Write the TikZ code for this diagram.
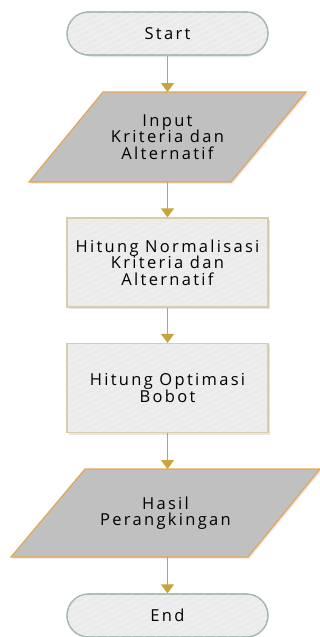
\documentclass[tikz,border=0pt]{standalone}
\usepackage{fontspec}
\setmainfont{Open Sans}[LetterSpace=14]
\usetikzlibrary{shapes.misc,calc,arrows.meta}

\definecolor{flowgold}{HTML}{C9A43C}
\definecolor{termfill}{HTML}{EBEBEB}
\definecolor{termline}{HTML}{A3B8AE}
\definecolor{boxfill}{HTML}{EBEBEB}
\definecolor{boxline}{HTML}{D9CDA8}
\definecolor{iofill}{HTML}{C0C0C0}
\definecolor{ioline}{HTML}{E6A552}
\definecolor{stripe}{HTML}{F1F1F1}

\tikzset{
  x=1pt, y=-1pt,
  txt/.style={font=\fontsize{16.5}{16.5}\selectfont, align=center, text=black, inner sep=0pt},
  terminal/.style={rounded rectangle, draw=termline, line width=1.2pt, fill=termfill,
    minimum width=201pt, minimum height=43pt, txt},
  procbox/.style={rectangle, draw=boxline, line width=1.2pt, fill=boxfill,
    minimum width=201pt, minimum height=89pt, txt},
  iobox/.style={rectangle, minimum height=90pt, txt},
  flow/.style={draw=flowgold, line width=1.2pt, -{Triangle[length=9pt,width=13pt]}},
  stripes/.style={draw=stripe, line width=0.9pt}
}

% diagonal light stripes across the current clip region
\newcommand{\stripefill}[4]{%
  \foreach \s in {-300,-288,...,300}{
    \draw[stripes] ({#1+\s},{#4}) -- ({#1+\s+2*(#4-#2)},{#2});
  }%
}

\begin{document}
\begin{tikzpicture}
\useasboundingbox (0,0) rectangle (320,637);

% ---- Start ----
\path (169,35.5) node[rounded rectangle, minimum width=201pt, minimum height=43pt, fill=black!10] {};
\node[terminal] (start) at (167.5,33.5) {};
\begin{scope}
  \clip[rounded corners=21pt] (66,12) rectangle (269,55);
  \stripefill{167}{12}{269}{55}
\end{scope}
\node[terminal, fill=none] at (start) {Start};

% ---- Input ----
\node[iobox] (input) at (167.5,137) {};
\fill[black!10] (30.5,183.5) -- (104.5,93.5) -- (307.5,93.5) -- (232.5,183.5) -- cycle;
\filldraw[fill=iofill, draw=ioline, line width=1.2pt, line join=miter]
  (29,182) -- (103,92) -- (306,92) -- (231,182) -- cycle;
\node[txt] at (input) {Input\\Kriteria dan\\Alternatif};

% ---- Normalisasi ----
\fill[black!10] (69,220) rectangle (270,309);
\node[procbox] (norm) at (167.5,262.5) {};
\begin{scope}
  \clip (67,218) rectangle (268,307);
  \stripefill{167}{218}{268}{307}
\end{scope}
\node[procbox, fill=none] at (norm) {Hitung Normalisasi\\Kriteria dan\\Alternatif};

% ---- Optimasi ----
\fill[black!10] (69,345) rectangle (270,435);
\node[procbox] (opt) at (167.5,388) {};
\begin{scope}
  \clip (67,343) rectangle (268,433);
  \stripefill{167}{343}{268}{433}
\end{scope}
\node[procbox, fill=none] at (opt) {Hitung Optimasi\\Bobot};

% ---- Hasil ----
\node[iobox, minimum height=88pt] (hasil) at (165.5,513) {};
\fill[black!10] (12.5,558.5) -- (86.5,470.5) -- (321.5,470.5) -- (249.5,558.5) -- cycle;
\filldraw[fill=iofill, draw=ioline, line width=1.2pt, line join=miter]
  (11,557) -- (85,469) -- (320,469) -- (248,557) -- cycle;
\node[txt] at (hasil) {Hasil\\Perangkingan};

% ---- End ----
\path (169,617.5) node[rounded rectangle, minimum width=201pt, minimum height=43pt, fill=black!10] {};
\node[terminal] (end) at (167.5,615.5) {};
\begin{scope}
  \clip[rounded corners=21pt] (66,594) rectangle (269,637);
  \stripefill{167}{594}{269}{637}
\end{scope}
\node[terminal, fill=none] at (end) {End};

% ---- connectors ----
\coordinate (inTop) at (167.5,92);
\coordinate (inBot) at (167.5,182);
\coordinate (haTop) at (167.5,469);
\coordinate (haBot) at (167.5,557);
\draw[flow] (start.south) -- (inTop);
\draw[flow] (inBot) -- (norm.north);
\draw[flow] (norm.south) -- (opt.north);
\draw[flow] (opt.south) -- (haTop);
\draw[flow] (haBot) -- (end.north);
\end{tikzpicture}
\end{document}
